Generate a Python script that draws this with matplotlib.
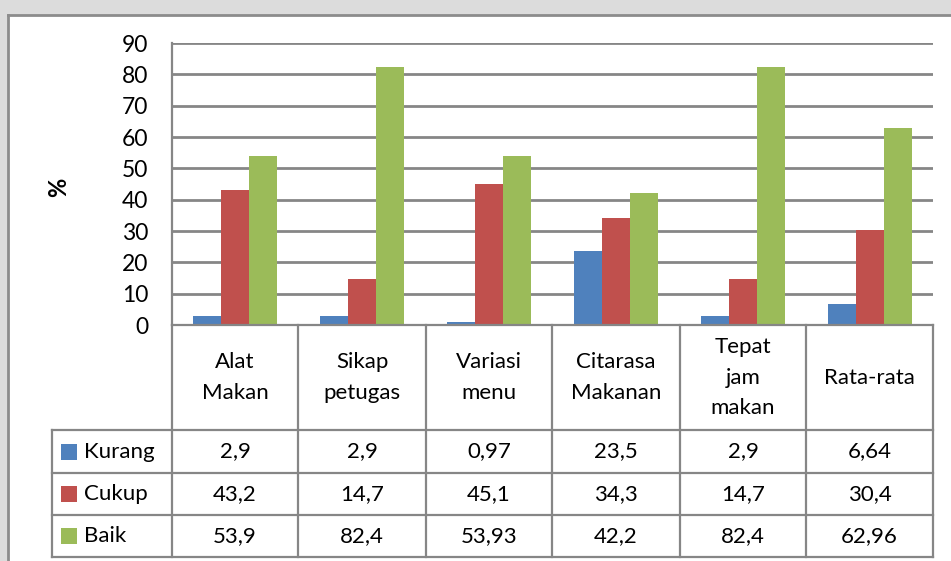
import matplotlib
matplotlib.use("Agg")
import matplotlib.pyplot as plt
from matplotlib.lines import Line2D
from matplotlib.patches import Rectangle
import numpy as np

categories = ["Alat\nMakan", "Sikap\npetugas", "Variasi\nmenu",
              "Citarasa\nMakanan", "Tepat\njam\nmakan", "Rata-rata"]
series_names = ["Kurang", "Cukup", "Baik"]
kurang = [2.9, 2.9, 0.97, 23.5, 2.9, 6.64]
cukup = [43.2, 14.7, 45.1, 34.3, 14.7, 30.4]
baik = [53.9, 82.4, 53.93, 42.2, 82.4, 62.96]
table_labels = [["2,9", "2,9", "0,97", "23,5", "2,9", "6,64"],
                ["43,2", "14,7", "45,1", "34,3", "14,7", "30,4"],
                ["53,9", "82,4", "53,93", "42,2", "82,4", "62,96"]]
yticks = [0, 10, 20, 30, 40, 50, 60, 70, 80, 90]

colors = ["#4F81BD", "#C0504D", "#9BBB59"]
gridc = "#868686"
plt.rcParams['font.family'] = ['Lato', 'DejaVu Sans']

W, H = 951, 561
fig = plt.figure(figsize=(W / 100, H / 100), dpi=100)
fig.patch.set_facecolor("#dcdcdc")


def fx(x):
    return x / W


def fy(y):
    return 1 - y / H


def hline(x0, x1, y, lw=1.6, c=gridc):
    fig.add_artist(Line2D([fx(x0), fx(x1)], [fy(y), fy(y)], color=c, lw=lw))


def vline(x, y0, y1, lw=1.6, c=gridc):
    fig.add_artist(Line2D([fx(x), fx(x)], [fy(y0), fy(y1)], color=c, lw=lw))


# white chart area with gray frame
fig.add_artist(Rectangle((fx(8), 0), 1 - fx(8), fy(15), facecolor="white",
                         edgecolor="none", zorder=0))
hline(8, W, 15, lw=2.0, c="#8c8c8c")
vline(8, 15, H, lw=2.0, c="#8c8c8c")

left, right, top, zero = 172, 933, 43, 325
ax = fig.add_axes([fx(left), fy(zero), fx(right - left), (zero - top) / H])
ax.set_facecolor("none")

n = len(categories)
x = np.arange(n) + 0.5
bw = 0.221
for k, vals in enumerate([kurang, cukup, baik]):
    ax.bar(x + (k - 1) * bw, vals, width=bw, color=colors[k], zorder=3)

ax.set_xlim(0, n)
ax.set_ylim(0, 90)
ax.set_yticks(yticks)
ax.set_yticklabels([str(t) for t in yticks], fontsize=16.5)
ax.tick_params(axis='y', length=0, pad=17)
ax.set_xticks([])
ax.yaxis.grid(True, color=gridc, lw=2.0, zorder=0)
for s in ["top", "right", "bottom"]:
    ax.spines[s].set_visible(False)
ax.spines["left"].set_color(gridc)
ax.spines["left"].set_linewidth(1.6)
ax.set_axisbelow(True)

fig.text(fx(59), fy(187), "%", rotation=90, fontsize=17, fontweight="bold",
         ha="center", va="center")

# data table
cols = [172, 298, 426, 552, 680, 806, 933]
rows = [325, 430, 473, 515, 557]
for cx in cols:
    vline(cx, rows[0], rows[-1])
vline(52, rows[1], rows[-1])
hline(cols[0], cols[-1], rows[0])
for ry in rows[1:]:
    hline(52, cols[-1], ry)

for i, cat in enumerate(categories):
    cx = (cols[i] + cols[i + 1]) / 2
    cy = (rows[0] + rows[1]) / 2
    fig.text(fx(cx), fy(cy), cat, ha="center", va="center", fontsize=16,
             linespacing=1.65)

for r, name in enumerate(series_names):
    cy = (rows[r + 1] + rows[r + 2]) / 2
    fig.add_artist(Rectangle((fx(61), fy(cy + 8)), fx(16), 16 / H,
                             facecolor=colors[r], edgecolor="none"))
    fig.text(fx(84), fy(cy), name, ha="left", va="center", fontsize=16)
    for i in range(n):
        cx = (cols[i] + cols[i + 1]) / 2
        fig.text(fx(cx), fy(cy), table_labels[r][i], ha="center",
                 va="center", fontsize=16)

fig.savefig("out.png", dpi=100, facecolor=fig.get_facecolor())
